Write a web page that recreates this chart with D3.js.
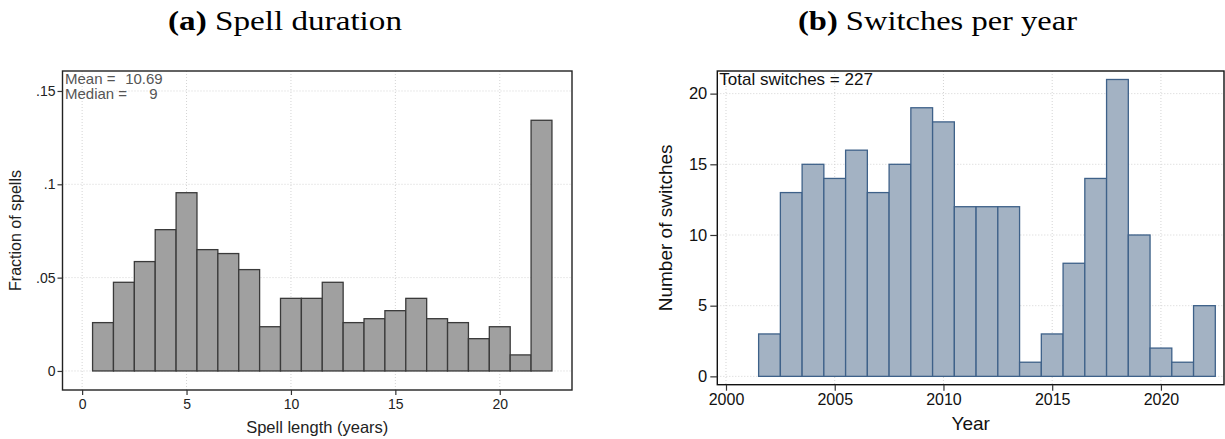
<!DOCTYPE html>
<html>
<head>
<meta charset="utf-8">
<script src="https://cdn.jsdelivr.net/npm/d3@7"></script>
<style>
  html, body { margin: 0; padding: 0; background: #fff; }
  svg { display: block; }
  .sans { font-family: "Liberation Sans", Arial, sans-serif; }
  .serif { font-family: "Liberation Serif", "DejaVu Serif", serif; }
</style>
</head>
<body>
<svg id="fig" width="1225" height="439"></svg>
<script>
// Panel (a): spell duration histogram
const spellLength = [1, 2, 3, 4, 5, 6, 7, 8, 9, 10, 11, 12, 13, 14, 15, 16, 17, 18, 19, 20, 21, 22];
const spellFraction = [0.0259, 0.0475, 0.0586, 0.0757, 0.0955, 0.0650, 0.0629, 0.0543, 0.0237, 0.0389, 0.0389,
                       0.0475, 0.0259, 0.0280, 0.0323, 0.0389, 0.0280, 0.0259, 0.0173, 0.0237, 0.0086, 0.1343];
const spellXTicks = [0, 5, 10, 15, 20];
const spellYTicks = [0, 0.05, 0.1, 0.15];
const spellYTickLabels = ["0", ".05", ".1", ".15"];
const spellStats = [["Mean =", "10.69"], ["Median =", "9"]];

// Panel (b): switches per year
const years = [2002, 2003, 2004, 2005, 2006, 2007, 2008, 2009, 2010, 2011, 2012, 2013, 2014, 2015, 2016, 2017, 2018, 2019, 2020, 2021, 2022];
const switches = [3, 13, 15, 14, 16, 13, 15, 19, 18, 12, 12, 12, 1, 3, 8, 14, 21, 10, 2, 1, 5];
const yearTicks = [2000, 2005, 2010, 2015, 2020];
const switchTicks = [0, 5, 10, 15, 20];
const totalSwitches = d3.sum(switches);

const svg = d3.select("#fig");

// ---------- panel titles ----------
function panelTitle(cx, width, letter, text) {
  const t = svg.append("text").attr("class", "serif")
    .attr("x", cx - width / 2).attr("y", 30)
    .attr("textLength", width).attr("lengthAdjust", "spacingAndGlyphs")
    .attr("font-size", 27).attr("fill", "#000");
  t.append("tspan").attr("font-weight", "bold").text("(" + letter + ")");
  t.append("tspan").text(" " + text);
}
panelTitle(285, 234, "a", "Spell duration");
panelTitle(937.5, 279, "b", "Switches per year");

function dottedGrid(g, x, y, xTicks, yTicks, x0, x1, y0, y1) {
  g.selectAll("line.gy").data(yTicks).join("line").attr("class", "gy")
    .attr("x1", x0).attr("x2", x1).attr("y1", d => y(d)).attr("y2", d => y(d))
    .attr("stroke", "#d4d4d4").attr("stroke-width", 1).attr("stroke-dasharray", "1,2");
  g.selectAll("line.gx").data(xTicks).join("line").attr("class", "gx")
    .attr("y1", y0).attr("y2", y1).attr("x1", d => x(d)).attr("x2", d => x(d))
    .attr("stroke", "#d4d4d4").attr("stroke-width", 1).attr("stroke-dasharray", "1,2");
}

// ---------- panel (a) ----------
{
  const L = 62.5, R = 572, T = 71, B = 390;
  const x = d3.scaleLinear().domain([-0.94, 23.46]).range([L, R]);
  const y = d3.scaleLinear().domain([-0.0102, 0.1607]).range([B, T]);
  const g = svg.append("g");

  dottedGrid(g, x, y, spellXTicks, spellYTicks, L, R, T, B);

  g.selectAll("rect.bar").data(spellLength).join("rect").attr("class", "bar")
    .attr("x", d => x(d - 0.5)).attr("width", d => x(d + 0.5) - x(d - 0.5))
    .attr("y", (d, i) => y(spellFraction[i])).attr("height", (d, i) => y(0) - y(spellFraction[i]))
    .attr("fill", "#a0a0a0").attr("stroke", "#3a3a3a").attr("stroke-width", 1.3);

  g.append("rect").attr("x", L).attr("y", T).attr("width", R - L).attr("height", B - T)
    .attr("fill", "none").attr("stroke", "#222").attr("stroke-width", 1.4);

  const yAxis = d3.axisLeft(y).tickValues(spellYTicks).tickSize(5).tickPadding(2)
    .tickFormat((d, i) => spellYTickLabels[i]);
  const ya = g.append("g").attr("transform", `translate(${L},0)`).call(yAxis);
  ya.select(".domain").remove();
  ya.selectAll("line").attr("stroke", "#333").attr("stroke-width", 1.2);
  ya.selectAll("text").attr("class", "sans").attr("font-size", 14).attr("fill", "#222");

  const xAxis = d3.axisBottom(x).tickValues(spellXTicks).tickSize(5).tickPadding(4);
  const xa = g.append("g").attr("transform", `translate(0,${B})`).call(xAxis);
  xa.select(".domain").remove();
  xa.selectAll("line").attr("stroke", "#333").attr("stroke-width", 1.2);
  xa.selectAll("text").attr("class", "sans").attr("font-size", 14).attr("fill", "#222");

  g.append("text").attr("class", "sans").attr("x", (L + R) / 2).attr("y", 433)
    .attr("text-anchor", "middle").attr("font-size", 16.5).attr("fill", "#222")
    .text("Spell length (years)");
  g.append("text").attr("class", "sans")
    .attr("transform", `translate(21,${(T + B) / 2}) rotate(-90)`)
    .attr("text-anchor", "middle").attr("font-size", 16).attr("fill", "#222")
    .text("Fraction of spells");

  const statRight = [162.7, 157.7];
  spellStats.forEach((s, i) => {
    const ty = 84 + i * 14.7;
    g.append("text").attr("class", "sans").attr("x", L + 2.5).attr("y", ty)
      .attr("font-size", 15).attr("fill", "#555").text(s[0]);
    g.append("text").attr("class", "sans").attr("x", statRight[i]).attr("y", ty)
      .attr("text-anchor", "end").attr("font-size", 15).attr("fill", "#555").text(s[1]);
  });
}

// ---------- panel (b) ----------
{
  const L = 717.3, R = 1224, T = 71, B = 384.7;
  const x = d3.scaleLinear().domain([1999.6, 2022.9]).range([L, R]);
  const y = d3.scaleLinear().domain([-0.59, 21.6]).range([B, T]);
  const g = svg.append("g");

  dottedGrid(g, x, y, yearTicks, switchTicks, L, R, T, B);

  g.selectAll("rect.bar").data(years).join("rect").attr("class", "bar")
    .attr("x", d => x(d - 0.5)).attr("width", d => x(d + 0.5) - x(d - 0.5))
    .attr("y", (d, i) => y(switches[i])).attr("height", (d, i) => y(0) - y(switches[i]))
    .attr("fill", "#a3b2c3").attr("stroke", "#3e6189").attr("stroke-width", 1.3);

  g.append("rect").attr("x", L).attr("y", T).attr("width", R - L).attr("height", B - T)
    .attr("fill", "none").attr("stroke", "#111").attr("stroke-width", 1.4);

  const yAxis = d3.axisLeft(y).tickValues(switchTicks).tickSize(7).tickPadding(3);
  const ya = g.append("g").attr("transform", `translate(${L},0)`).call(yAxis);
  ya.select(".domain").remove();
  ya.selectAll("line").attr("stroke", "#333").attr("stroke-width", 1.2);
  ya.selectAll("text").attr("class", "sans").attr("font-size", 16.5).attr("fill", "#111");

  const xAxis = d3.axisBottom(x).tickValues(yearTicks).tickSize(6).tickPadding(3).tickFormat(d3.format("d"));
  const xa = g.append("g").attr("transform", `translate(0,${B})`).call(xAxis);
  xa.select(".domain").remove();
  xa.selectAll("line").attr("stroke", "#333").attr("stroke-width", 1.2);
  xa.selectAll("text").attr("class", "sans").attr("font-size", 16).attr("fill", "#111");

  g.append("text").attr("class", "sans").attr("x", (L + R) / 2).attr("y", 430)
    .attr("text-anchor", "middle").attr("font-size", 19).attr("fill", "#111")
    .text("Year");
  g.append("text").attr("class", "sans")
    .attr("transform", `translate(672,${(T + B) / 2}) rotate(-90)`)
    .attr("text-anchor", "middle").attr("font-size", 19).attr("fill", "#111")
    .text("Number of switches");

  g.append("text").attr("class", "sans").attr("x", L + 2).attr("y", 85)
    .attr("font-size", 17).attr("fill", "#111").text("Total switches = " + totalSwitches);
}
</script>
</body>
</html>
